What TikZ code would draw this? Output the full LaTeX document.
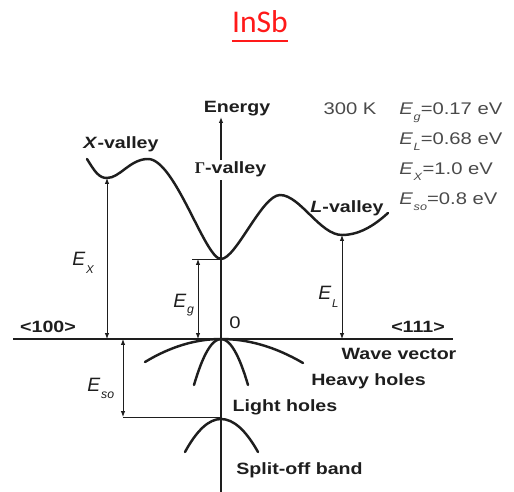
\documentclass[tikz,border=0pt]{standalone}
\usepackage{fontspec}
\setmainfont{Liberation Sans}[FakeStretch=1.2]
\newfontfamily\plainsans{Liberation Sans}
\newfontfamily\serifgreek{Liberation Serif}
\newfontfamily\titlefont{Carlito}
\usetikzlibrary{arrows.meta}
\definecolor{txt}{HTML}{1E1E1E}
\definecolor{valc}{HTML}{4A4A4A}
\definecolor{titlered}{HTML}{FF1A1A}
\newcommand{\Ei}[3]{\textit{E}\kern0.4pt\raisebox{#3}{\fontsize{#2}{#2}\selectfont\textit{#1}}}
\begin{document}
\begin{tikzpicture}[x=0.02cm,y=-0.02cm,
  lbl/.style={font=\fontsize{9.3}{10}\selectfont\bfseries, text=txt, inner sep=0pt, anchor=base},
  valt/.style={font=\fontsize{9.6}{10}\selectfont, text=valc, inner sep=0pt, anchor=base west},
  elbl/.style={font=\plainsans\fontsize{11}{12}\selectfont, text=txt, inner sep=0pt, anchor=base west},
  band/.style={line width=1.4pt, line cap=round, draw=txt},
  axis/.style={line width=0.7pt, draw=txt},
  tipa/.tip={Latex[length=3.4pt,width=2.6pt]},
  dimarrow/.style={line width=0.55pt, draw=txt, tipa-tipa},
  thin/.style={line width=0.55pt, draw=txt}
]
\useasboundingbox (0,0) rectangle (514,492);

% title
\node[font=\titlefont\fontsize{18}{20}\selectfont, text=titlered, anchor=base, inner sep=0pt] (title) at (260,33) {InSb};
\draw[titlered, line width=1.1pt] ([yshift=-4.5pt]title.base west) -- ([yshift=-4.5pt]title.base east);

% axes
\coordinate (vtop) at (221,117);
\coordinate (vbot) at (221,492);
\coordinate (hl) at (13,339);
\coordinate (hr) at (453,339);
\draw[axis] (hl) -- (hr);
\draw[axis, -tipa] (vbot) -- (vtop);
\node[lbl] (energy) at (237,113) {Energy};
\node[lbl, fill=white, inner sep=1.5pt] (gamma) at (230.5,174) {{\serifgreek\bfseries Γ}-valley};

% conduction band
\coordinate (c0) at (87,159);
\coordinate (xmin) at (107,178);
\coordinate (xmax) at (148,159);
\coordinate (gmin) at (221,259);
\coordinate (rmax) at (280,195);
\coordinate (lmin) at (342,235);
\coordinate (c6) at (388,213);
\draw[band] (c0) .. controls (95,172) and (99,178) .. (xmin)
  .. controls (120,178) and (130,159) .. (xmax)
  .. controls (175,159) and (205,259) .. (gmin)
  .. controls (236,259) and (262,195) .. (rmax)
  .. controls (300,195) and (320,235) .. (lmin)
  .. controls (362,235) and (378,222) .. (c6);
\node[lbl] (xv) at (121,149) {\textit{X}-valley};
\node[lbl] (lv) at (347,213) {\textit{L}-valley};

% valence bands
\coordinate (o) at (221,339);
\coordinate (hhl) at (145,362);
\coordinate (hhr) at (303,363);
\coordinate (lhl) at (194,385);
\coordinate (lhr) at (248,385);
\coordinate (so) at (221,419);
\coordinate (sol) at (185,452);
\coordinate (sor) at (258,452);
\draw[band] (hhl) .. controls (170.3,346.7) and (195.7,339) .. (o)
  .. controls (248.3,339) and (275.7,347) .. (hhr);
\draw[band] (lhl) .. controls (203,354.3) and (212,339) .. (o)
  .. controls (230,339) and (239,354.3) .. (lhr);
\draw[band] (sol) .. controls (197,430) and (209,419) .. (so)
  .. controls (233.3,419) and (245.7,430) .. (sor);

% energy gaps
\coordinate (xa) at (107,339);
\draw[dimarrow] (xmin) -- (xa);
\node[elbl] (ex) at (72,266) {\Ei{X}{6.5}{-4.2pt}};
\coordinate (ga) at (198,259);
\coordinate (gb) at (198,339);
\coordinate (gl) at (192,259);
\draw[thin] (gl) -- (gmin);
\draw[dimarrow] (ga) -- (gb);
\node[elbl] (eg) at (173,308) {\Ei{g}{7}{-3.4pt}};
\coordinate (la) at (342,339);
\draw[dimarrow] (lmin) -- (la);
\node[elbl] (el) at (318,300) {\Ei{L}{6.5}{-4.2pt}};
\coordinate (sa) at (123,339);
\coordinate (sb) at (123,417);
\coordinate (sc) at (221,417);
\draw[dimarrow] (sa) -- (sb);
\draw[thin] (sb) -- (sc);
\node[elbl] (eso) at (87,392) {\Ei{so}{7}{-3.8pt}};

% axis labels
\node[lbl] (d100) at (48,333) {<100>};
\node[lbl] (d111) at (418,333) {<111>};
\node[lbl, font=\fontsize{9.6}{10}\selectfont] (zero) at (235,329) {0};
\node[lbl] (wv) at (399,360) {Wave vector};
\node[lbl] (hh) at (368.5,386) {Heavy holes};
\node[lbl] (lh) at (285,412) {Light holes};
\node[lbl] (sob) at (299.5,475) {Split-off band};

% values
\node[valt, anchor=base] (temp) at (350,114.5) {300 K};
\node[valt] (vg) at (399,114.5) {\Ei{g}{6}{-3.2pt}=0.17 eV};
\node[valt] (vl) at (399,144.5) {\Ei{L}{6}{-3.6pt}=0.68 eV};
\node[valt] (vx) at (399,174.5) {\Ei{X}{6}{-3.6pt}=1.0 eV};
\node[valt] (vs) at (399,204.5) {\Ei{so}{6}{-3.4pt}=0.8 eV};
\end{tikzpicture}
\end{document}
